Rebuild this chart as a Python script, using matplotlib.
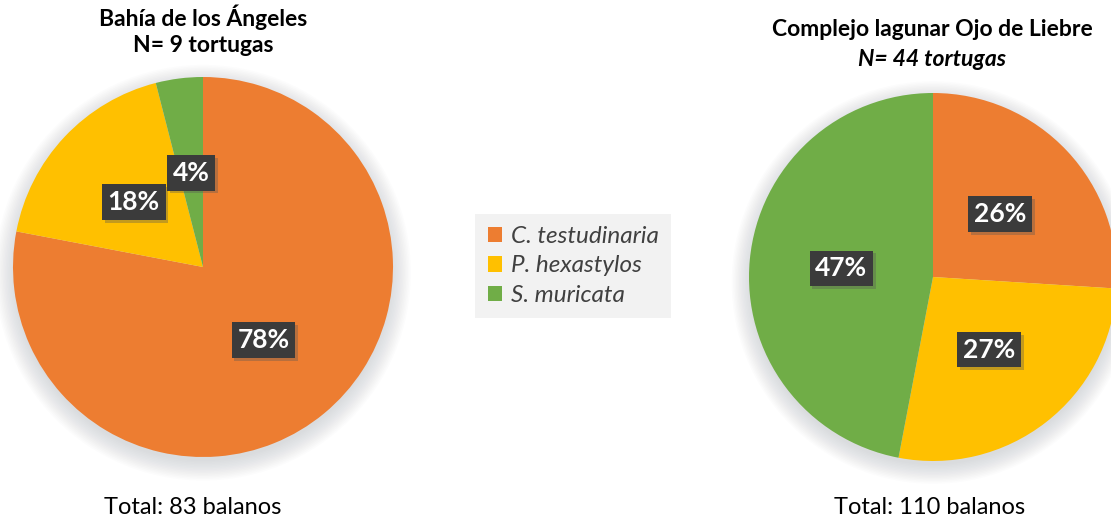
import matplotlib.pyplot as plt
from matplotlib import patheffects
from matplotlib.patches import Circle, Patch

plt.rcParams['font.family'] = ['Lato', 'DejaVu Sans']

species = ['C. testudinaria', 'P. hexastylos', 'S. muricata']
colors = ['#ED7D31', '#FFC000', '#70AD47']

bahia_pct = [78, 18, 4]
ojo_pct = [26, 27, 47]

bahia_title = 'Bahía de los Ángeles'
bahia_n = 'N= 9 tortugas'
bahia_total = 'Total: 83 balanos'
ojo_title = 'Complejo lagunar Ojo de Liebre'
ojo_n = 'N= 44 tortugas'
ojo_total = 'Total: 110 balanos'

W, H = 1111, 522
fig = plt.figure(figsize=(W / 100, H / 100), dpi=100)


def px_axes(cx, cy, r):
    # axes square around a circle given in pixel coords (y from top)
    return fig.add_axes([(cx - r) / W, (H - cy - r) / H, 2 * r / W, 2 * r / H])


def draw_pie(ax, values):
    # soft drop shadow under the disc
    for i in range(14):
        ax.add_patch(Circle((0, -0.03), 0.99 + 0.008 * i, color='#8f959c',
                            alpha=0.022, lw=0, zorder=0, clip_on=False))
    wedges, _, autotexts = ax.pie(values, colors=colors, startangle=90, counterclock=False,
                                  autopct='%d%%', pctdistance=0.5,
                                  wedgeprops=dict(linewidth=0))
    for w in wedges:
        w.set_clip_on(False)
    for t in autotexts:
        t.set_color('white')
        t.set_fontweight('bold')
        t.set_fontsize(19)
        t.set_bbox(dict(boxstyle='square,pad=0.22', facecolor='#3b3b3b', edgecolor='none'))
        t.get_bbox_patch().set_path_effects([
            patheffects.SimplePatchShadow(offset=(2, -2), shadow_rgbFace='#555555', alpha=0.35),
            patheffects.Normal()])
    ax.set_xlim(-1, 1)
    ax.set_ylim(-1, 1)
    ax.set_aspect('equal')
    ax.axis('off')
    return wedges


ax1 = px_axes(203, 267, 190)
draw_pie(ax1, bahia_pct)
ax2 = px_axes(933, 277, 184)
draw_pie(ax2, ojo_pct)

fig.text(203 / W, 1 - 17 / H, bahia_title, ha='center', va='center', fontsize=16.5, fontweight='bold')
fig.text(203 / W, 1 - 46 / H, bahia_n, ha='center', va='center', fontsize=16.5, fontweight='bold')
fig.text(932 / W, 1 - 30 / H, ojo_title, ha='center', va='center', fontsize=16.5, fontweight='bold')
fig.text(932 / W, 1 - 59 / H, ojo_n, ha='center', va='center', fontsize=16.5,
         fontweight='bold', fontstyle='italic')
fig.text(193 / W, 1 - 507 / H, bahia_total, ha='center', va='center', fontsize=17)
fig.text(930 / W, 1 - 507 / H, ojo_total, ha='center', va='center', fontsize=17)

handles = [Patch(facecolor=c, edgecolor='none') for c in colors]
leg = fig.legend(handles, species, loc='center', bbox_to_anchor=(573 / W, 1 - 266 / H),
                 frameon=True, fancybox=False, handlelength=0.6, handleheight=0.6,
                 handletextpad=0.35, labelspacing=0.35, borderpad=0.5, borderaxespad=0,
                 prop=dict(size=17.5, style='italic'))
leg.get_frame().set_facecolor('#f2f2f2')
leg.get_frame().set_edgecolor('none')
leg.get_frame().set_alpha(1)
for t in leg.get_texts():
    t.set_color('#404040')

fig.savefig('out.png', dpi=100, facecolor='white')
